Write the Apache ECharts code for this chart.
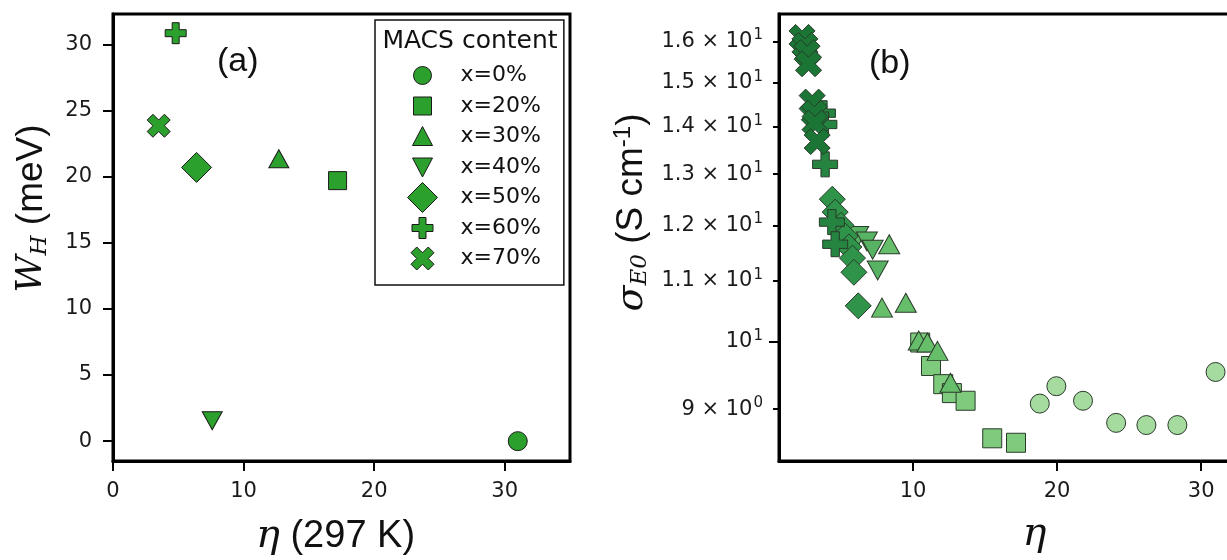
<!DOCTYPE html>
<html><head><meta charset="utf-8">
<script src="https://cdn.jsdelivr.net/npm/echarts@6/dist/echarts.min.js"></script>
<style>html,body{margin:0;padding:0;background:#fff}#c{width:1227px;height:560px}</style>
</head><body><div id="c"></div>
<script>
// ---------- data ----------
const seriesNames = ['x=0%', 'x=20%', 'x=30%', 'x=40%', 'x=50%', 'x=60%', 'x=70%'];

// panel (a): eta at 297 K vs W_H (meV)
const etaA = [31.0, 17.2, 12.7, 7.6, 6.4, 4.8, 3.5];
const whA  = [0.0, 19.7, 21.35, 1.55, 20.7, 30.85, 23.85];

// panel (b): eta vs sigma_E0 (S cm^-1)
const eta0  = [18.8, 19.95, 21.8, 24.1, 26.2, 28.35, 31.0];
const sig0  = [9.08, 9.33, 9.12, 8.81, 8.78, 8.78, 9.54];
const eta20 = [10.5, 11.25, 12.1, 12.7, 13.65, 15.5, 17.15];
const sig20 = [9.99, 9.63, 9.36, 9.23, 9.12, 8.6, 8.54];
const eta30 = [7.85, 8.35, 9.5, 10.4, 11.0, 11.7, 12.6];
const sig30 = [10.55, 11.65, 10.63, 10.02, 9.99, 9.86, 9.38];
const eta40 = [6.2, 6.8, 7.2, 7.55];
const sig40 = [11.8, 11.7, 11.55, 11.18];
const eta50 = [4.4, 4.6, 5.0, 5.3, 5.55, 5.8, 5.9, 6.2];
const sig50 = [12.5, 12.25, 12.0, 11.8, 11.6, 11.4, 11.15, 10.58];
const eta60 = [3.75, 3.85, 3.9, 4.37, 4.6];
const sig60 = [14.3, 14.05, 13.2, 12.06, 11.65];
const eta70 = [2.3, 2.5, 2.65, 2.75, 3.0, 3.15, 3.2, 3.35];
const sig70 = [16.1, 15.9, 15.72, 15.45, 14.55, 14.3, 14.08, 13.68];

// tick labels
const xTicksA = [0, 10, 20, 30];
const yTicksA = [0, 5, 10, 15, 20, 25, 30];
const xTicksB = [10, 20, 30];
const yTicksB = [9, 10, 11, 12, 13, 14, 15, 16];
const yTickMantB = ['9', '', '1.1', '1.2', '1.3', '1.4', '1.5', '1.6'];
const yTickExpB  = ['0', '1', '1', '1', '1', '1', '1', '1'];

// ---------- styles ----------
const P_PLUS = 'path://M1,0L2,0L2,1L3,1L3,2L2,2L2,3L1,3L1,2L0,2L0,1L1,1Z';
const P_X = 'path://M25,0L50,25L75,0L100,25L75,50L100,75L75,100L50,75L25,100L0,75L25,50L0,25Z';
const P_TDOWN = 'path://M0,0L2,0L1,2Z';
const symbolsA = ['circle', 'rect', 'triangle', P_TDOWN, 'diamond', P_PLUS, P_X];
const sizesA = [19, 18, [20, 18], [20, 18], 30, 21, 23];
const sizesB = [19, 19, [21, 19], [21, 19], 26, 25, 26];
const colorsB = ['#a6dba0', '#7fcb7e', '#66bd6a', '#58b263', '#2f9349', '#248440', '#1b7636'];
const etaB = [eta0, eta20, eta30, eta40, eta50, eta60, eta70];
const sigB = [sig0, sig20, sig30, sig40, sig50, sig60, sig70];

// legend icons in a 70x30 box, shape centred at (37,15)
const cx = 37, cy = 15;
function box(s) { return 'path://M0,0M70,30' + s; }
const legendIcons = [
  box(`M${cx+9},${cy}A9,9 0 1,1 ${cx-9},${cy}A9,9 0 1,1 ${cx+9},${cy}Z`),
  box(`M${cx-9},${cy-9}L${cx+9},${cy-9}L${cx+9},${cy+9}L${cx-9},${cy+9}Z`),
  box(`M${cx},${cy-10}L${cx+10},${cy+9}L${cx-10},${cy+9}Z`),
  box(`M${cx-10},${cy-9}L${cx+10},${cy-9}L${cx},${cy+10}Z`),
  box(`M${cx},${cy-15}L${cx+15},${cy}L${cx},${cy+15}L${cx-15},${cy}Z`),
  (() => { const a = 10.5, b = 3.5; return box(`M${cx-b},${cy-a}L${cx+b},${cy-a}L${cx+b},${cy-b}L${cx+a},${cy-b}L${cx+a},${cy+b}L${cx+b},${cy+b}L${cx+b},${cy+a}L${cx-b},${cy+a}L${cx-b},${cy+b}L${cx-a},${cy+b}L${cx-a},${cy-b}L${cx-b},${cy-b}Z`); })(),
  (() => { const h = 11.5, q = h / 2; return box(`M${cx-q},${cy-h}L${cx},${cy-q}L${cx+q},${cy-h}L${cx+h},${cy-q}L${cx+q},${cy}L${cx+h},${cy+q}L${cx+q},${cy+h}L${cx},${cy+q}L${cx-q},${cy+h}L${cx-h},${cy+q}L${cx-q},${cy}L${cx-h},${cy-q}Z`); })()
];

const tickFont = { fontFamily: 'DejaVu Sans', fontSize: 21, color: '#1a1a1a' };
const serifIt = { fontFamily: 'DejaVu Serif', fontStyle: 'italic', color: '#111' };
const sansBig = { fontFamily: 'Liberation Sans', color: '#111' };

const series = [];
seriesNames.forEach((n, i) => {
  series.push({
    name: n, type: 'scatter', xAxisIndex: 0, yAxisIndex: 0,
    symbol: symbolsA[i], symbolSize: sizesA[i],
    itemStyle: { color: '#2ca02c', borderColor: '#1a1a1a', borderWidth: 1, opacity: 1 },
    data: [[etaA[i], whA[i]]]
  });
});
seriesNames.forEach((n, i) => {
  series.push({
    name: n, type: 'scatter', xAxisIndex: 1, yAxisIndex: 1,
    symbol: symbolsA[i], symbolSize: sizesB[i],
    itemStyle: { color: colorsB[i], borderColor: '#2a3a2a', borderWidth: 1, opacity: 1 },
    data: etaB[i].map((e, k) => [e, sigB[i][k]])
  });
});

const axisLineStyle = { show: true, onZero: false, lineStyle: { color: '#000', width: 3 } };
const tickStyle = (vals, len) => ({ show: true, customValues: vals, length: len || 10, lineStyle: { color: '#000', width: 2 } });

const option = {
  animation: false,
  backgroundColor: '#fff',
  title: [
    { text: '(a)', left: 212, top: 40, textStyle: { fontFamily: 'Liberation Sans', fontSize: 34, fontWeight: 'normal', color: '#111' } },
    { text: '(b)', left: 864, top: 42, textStyle: { fontFamily: 'Liberation Sans', fontSize: 34, fontWeight: 'normal', color: '#111' } },
    { text: 'MACS content', left: 465, top: 24, textAlign: 'center', textStyle: { fontFamily: 'DejaVu Sans', fontSize: 25, fontWeight: 'normal', color: '#111' } }
  ],
  legend: {
    data: seriesNames.map((n, i) => ({ name: n, icon: legendIcons[i] })),
    orient: 'vertical', left: 375, top: 20,
    padding: [40, 23, 11, 10],
    itemWidth: 70, itemHeight: 30, itemGap: -0.5,
    borderColor: '#111', borderWidth: 1.5, borderRadius: 0,
    itemStyle: { borderWidth: 1, borderColor: '#1a1a1a', opacity: 1 },
    textStyle: { fontFamily: 'DejaVu Sans', fontSize: 22, color: '#111' },
    selectedMode: false
  },
  grid: [
    { left: 113, top: 14, width: 457, height: 447, show: true, borderColor: '#000', borderWidth: 3, containLabel: false, outerBoundsMode: 'none' },
    { left: 779, top: 14, width: 523, height: 447, show: true, borderColor: '#000', borderWidth: 3, containLabel: false, outerBoundsMode: 'none' }
  ],
  xAxis: [
    { type: 'value', gridIndex: 0, min: 0, max: 35, axisLine: axisLineStyle, splitLine: { show: false },
      axisTick: tickStyle(xTicksA), axisLabel: Object.assign({ customValues: xTicksA, margin: 20 }, tickFont),
      name: '{e|η}{t| (297 K)}', nameLocation: 'middle', nameGap: 56,
      nameTextStyle: { padding: [0, 12, 0, 0], rich: { e: Object.assign({ fontSize: 40 }, serifIt), t: Object.assign({ fontSize: 38 }, sansBig) } } },
    { type: 'value', gridIndex: 1, min: 0.7, max: 37, axisLine: axisLineStyle, splitLine: { show: false },
      axisTick: tickStyle(xTicksB), axisLabel: Object.assign({ customValues: xTicksB, margin: 20 }, tickFont),
      name: '{e|η}', nameLocation: 'middle', nameGap: 54,
      nameTextStyle: { padding: [0, 12, 0, 0], rich: { e: Object.assign({ fontSize: 40 }, serifIt) } } }
  ],
  yAxis: [
    { type: 'value', gridIndex: 0, min: -1.5, max: 32.3, axisLine: axisLineStyle, splitLine: { show: false },
      axisTick: tickStyle(yTicksA), axisLabel: Object.assign({ customValues: yTicksA, margin: 21 }, tickFont),
      name: '{w|W}{h|H}{t| (meV)}', nameLocation: 'middle', nameGap: 58, nameRotate: 90,
      nameTextStyle: { padding: [0, 0, 0, 58], rich: {
        w: Object.assign({ fontSize: 36, lineHeight: 46 }, serifIt),
        h: Object.assign({ fontSize: 23, lineHeight: 46, padding: [16, 0, 0, 0] }, serifIt),
        t: Object.assign({ fontSize: 37, lineHeight: 46 }, sansBig) } } },
    { type: 'log', gridIndex: 1, min: 8.3, max: 16.7, logBase: 10, axisLine: axisLineStyle, splitLine: { show: false },
      axisTick: tickStyle(yTicksB, 6),
      axisLabel: Object.assign({ customValues: yTicksB, margin: 16,
        formatter: v => {
          const k = yTicksB.findIndex(t => Math.abs(t - v) < 1e-6);
          if (k < 0) return '';
          return (yTickMantB[k] ? '{m|' + yTickMantB[k] + ' × 10}' : '{m|10}') + '{s|' + yTickExpB[k] + '}';
        },
        rich: { m: { fontFamily: 'DejaVu Sans', fontSize: 21, color: '#1a1a1a', lineHeight: 26 },
                s: { fontFamily: 'DejaVu Sans', fontSize: 15, color: '#1a1a1a', lineHeight: 26, padding: [0, 0, 12, 1] } } }, tickFont),
      name: '{s|σ}{sub|E0}{t| (S cm}{sup|-1}{t|)}', nameLocation: 'middle', nameGap: 124, nameRotate: 90,
      nameTextStyle: { padding: [0, 0, 0, 50], rich: {
        s: Object.assign({ fontSize: 38, lineHeight: 46 }, serifIt),
        sub: Object.assign({ fontSize: 23, lineHeight: 46, padding: [16, 0, 0, 0] }, serifIt),
        t: Object.assign({ fontSize: 37, lineHeight: 46 }, sansBig),
        sup: Object.assign({ fontSize: 24, lineHeight: 46, padding: [0, 0, 18, 0] }, sansBig) } } },
    { type: 'log', gridIndex: 1, min: 8.3, max: 16.7, logBase: 10, position: 'left',
      axisLine: { show: false }, splitLine: { show: false },
      axisTick: tickStyle([10], 10), axisLabel: { show: false } }
  ],
  series: series
};

const chart = echarts.init(document.getElementById('c'), null, { renderer: 'canvas' });
chart.setOption(option);
</script>
</body></html>
